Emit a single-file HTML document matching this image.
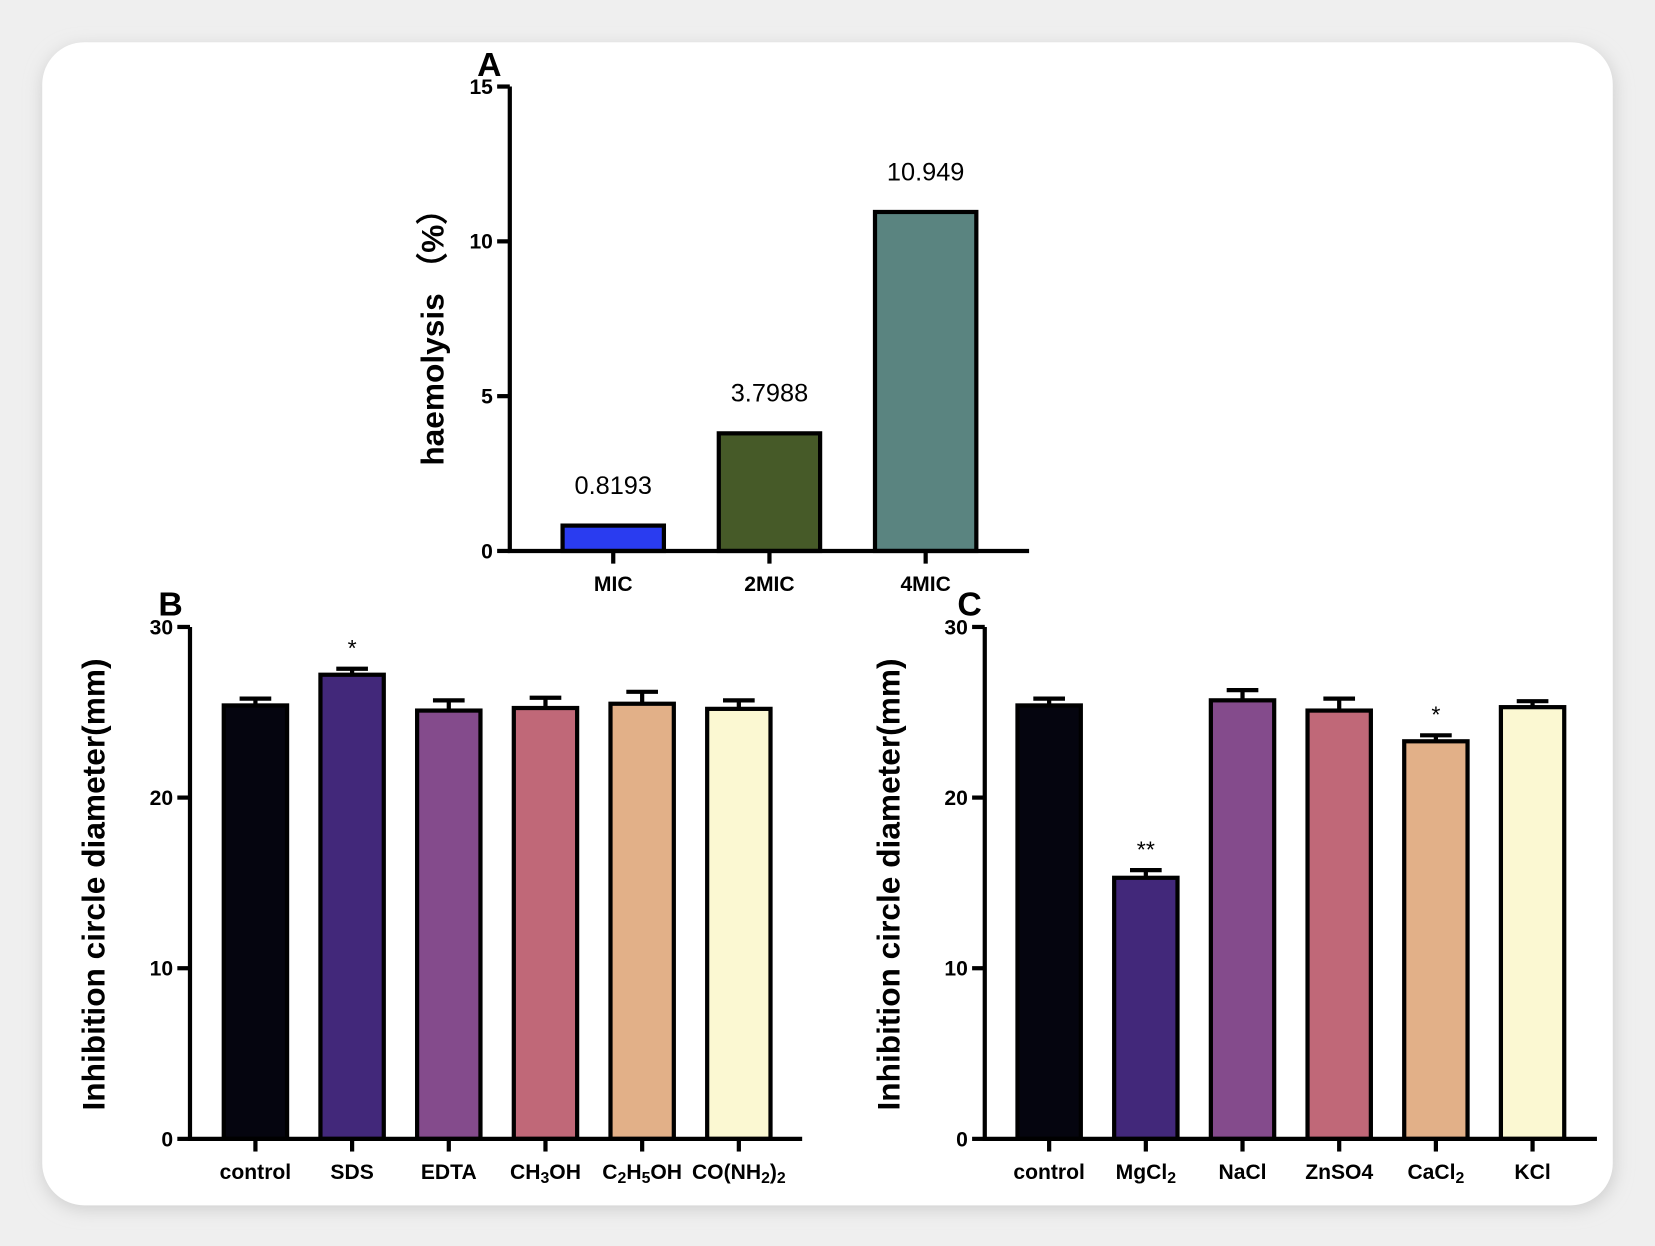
<!DOCTYPE html>
<html><head><meta charset="utf-8"><style>
html,body{margin:0;padding:0;background:#ececec;}
svg{display:block;}
text{font-family:"Liberation Sans",sans-serif;}
.tk{font-family:"Liberation Sans Narrow","Liberation Sans",sans-serif;font-weight:bold;font-size:20px;}
</style></head><body>
<svg id="fig" width="1655" height="1246" viewBox="0 0 1568 1180.5" xmlns="http://www.w3.org/2000/svg">
<defs><filter id="sh" x="-5%" y="-5%" width="110%" height="110%"><feGaussianBlur stdDeviation="8"/></filter></defs>
<rect x="0" y="0" width="1568" height="1181" fill="#efefef"/>
<rect x="40" y="44" width="1490" height="1102" rx="40" fill="#cfcfcf" filter="url(#sh)"/>
<rect x="40" y="40" width="1488" height="1102" rx="40" fill="#ffffff"/>
<g id="gA"></g>
<g id="gB"></g>
<g id="gC"></g>
</svg>
<script>
const aCats=["MIC","2MIC","4MIC"];
const aVals=[0.8193,3.7988,10.949];
const aLabels=["0.8193","3.7988","10.949"];
const aTicks=[0,5,10,15];
const bCats=["control","SDS","EDTA","CH_3OH","C_2H_5OH","CO(NH_2)_2"];
const bVals=[25.4,27.2,25.1,25.25,25.5,25.2];
const bErr=[0.4,0.35,0.6,0.6,0.7,0.5];
const bSig=["","*","","","",""];
const cCats=["control","MgCl_2","NaCl","ZnSO4","CaCl_2","KCl"];
const cVals=[25.4,15.3,25.7,25.1,23.3,25.3];
const cErr=[0.4,0.45,0.6,0.7,0.35,0.35];
const cSig=["","**","","","*",""];
const bcTicks=[0,10,20,30];
const NS="http://www.w3.org/2000/svg";
function mk(p,t,a){const e=document.createElementNS(NS,t);for(const k in a)e.setAttribute(k,a[k]);p.appendChild(e);return e;}
function labelHTML(s){return s.replace(/_(\d)/g,(m,d)=>'<tspan baseline-shift="-28%" font-size="15">'+d+'</tspan>');}
function chart(g,o){
  const y=v=>o.y0-(v-o.min)/(o.max-o.min)*(o.y0-o.yTop);
  const x=i=>o.x0+o.first+i*o.step;
  o.vals.forEach((v,i)=>{
    if(o.err){
      const t=y(v), e=y(v+o.err[i]);
      const l=mk(g,'line',{x1:x(i),x2:x(i),y1:t,y2:e,stroke:'#000','stroke-width':4});
      
      
      const c=mk(g,'line',{x1:x(i)-15,x2:x(i)+15,y1:e,y2:e,stroke:'#000','stroke-width':4});
      
      
    }
    const r=mk(g,'rect',{x:x(i)-o.bw/2,y:y(v),width:o.bw,height:o.y0-y(v),fill:o.colors[i],stroke:'#000','stroke-width':4});
    
    
    if(o.labels){const t=mk(g,'text',{x:x(i),y:y(v)-30,'text-anchor':'middle','font-size':24});t.textContent=o.labels[i];
      
      }
    if(o.sig&&o.sig[i]){const t=mk(g,'text',{x:x(i),y:y(v+o.err[i])-12,'text-anchor':'middle','font-size':22});t.textContent=o.sig[i];
      
      }
    const tk=mk(g,'line',{x1:x(i),x2:x(i),y1:o.y0,y2:o.y0+12,stroke:'#000','stroke-width':4});
    
    
    const tl=mk(g,'text',{x:x(i),y:o.y0+38,'text-anchor':'middle',class:'tk'});
    tl.innerHTML=labelHTML(o.cats[i]);
    
    
  });
  const ax=mk(g,'path',{d:`M${o.x0},${o.yTop}V${o.y0}H${o.xEnd}`,fill:'none',stroke:'#000','stroke-width':4});
  
  
  o.ticks.forEach(t=>{
    const l=mk(g,'line',{x1:o.x0-12,x2:o.x0,y1:y(t),y2:y(t),stroke:'#000','stroke-width':4});
    
    
    const tx=mk(g,'text',{x:o.x0-16,y:y(t)+7,'text-anchor':'end',class:'tk'});tx.textContent=t;
    
    
  });
  const yt=mk(g,'text',{x:0,y:0,transform:`translate(${o.ytx},${o.yty}) rotate(-90)`,'text-anchor':'middle','font-size':o.ytSize,'font-weight':'bold'});
  yt.textContent=o.ytitle;
  
  
  const pl=mk(g,'text',{x:o.px,y:o.py,'font-size':32,'font-weight':'bold'});
  pl.textContent=o.panel;
  
  
}
const pal=["#05050f","#42287a","#844b8c","#c06878","#e2b088","#fbf8d2"];
chart(document.getElementById('gA'),{cats:aCats,vals:aVals,labels:aLabels,ticks:aTicks,min:0,max:15,x0:483,xEnd:975,y0:522,yTop:82,first:98,step:148,bw:96,colors:["#2a3cf0","#465a28","#5a8480"],ytitle:"haemolysis （%）",ytx:420,yty:312,ytSize:30,panel:"A",px:452,py:72});
chart(document.getElementById('gB'),{cats:bCats,vals:bVals,err:bErr,sig:bSig,ticks:bcTicks,min:0,max:30,x0:180,xEnd:760,y0:1079,yTop:594,first:62,step:91.6,bw:60,colors:pal,ytitle:"Inhibition circle diameter(mm)",ytx:99,yty:838,ytSize:30,panel:"B",px:150,py:583});
chart(document.getElementById('gC'),{cats:cCats,vals:cVals,err:cErr,sig:cSig,ticks:bcTicks,min:0,max:30,x0:933,xEnd:1513,y0:1079,yTop:594,first:61,step:91.6,bw:60,colors:pal,ytitle:"Inhibition circle diameter(mm)",ytx:852,yty:838,ytSize:30,panel:"C",px:907,py:583});
</script>
</body></html>
